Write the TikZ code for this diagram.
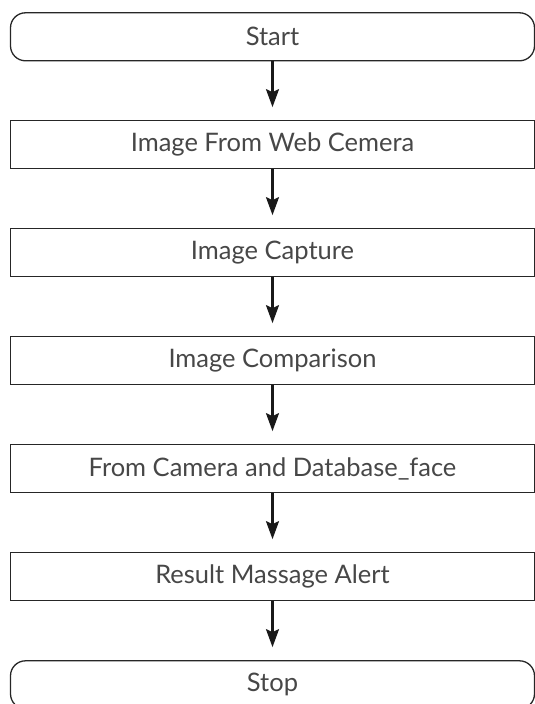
\documentclass[tikz,border=0pt]{standalone}
\usepackage{fontspec}
\setmainfont{Lato}
\usetikzlibrary{arrows.meta}

\begin{document}
\begin{tikzpicture}[x=1pt,y=-1pt,
  term/.style={draw=black!85,line width=1.3pt,rounded corners=15pt,minimum width=524pt,minimum height=48pt,inner sep=0pt,text=black!72,font=\fontsize{25.5}{29}\selectfont},
  proc/.style={term,rounded corners=0pt},
  flow/.style={draw=black!90,line width=2.2pt,-{Stealth[length=18pt,width=13pt,inset=3pt]},shorten >=13pt}]
\useasboundingbox (0,0) rectangle (535,704);
\node[term] (start) at (272.5,36.8) {Start};
\node[proc] (webcam) at (272.5,144.8) {Image From Web Cemera};
\node[proc] (capture) at (272.5,252.8) {Image Capture};
\node[proc] (compare) at (272.5,360.8) {Image Comparison};
\node[proc] (dbface) at (272.5,468.8) {From Camera and Database\_face};
\node[proc] (alert) at (272.5,576.8) {Result Massage Alert};
\node[term] (stop) at (272.5,684.8) {Stop};

\draw[flow] (start) -- (webcam);
\draw[flow] (webcam) -- (capture);
\draw[flow] (capture) -- (compare);
\draw[flow] (compare) -- (dbface);
\draw[flow] (dbface) -- (alert);
\draw[flow] (alert) -- (stop);
\end{tikzpicture}
\end{document}
